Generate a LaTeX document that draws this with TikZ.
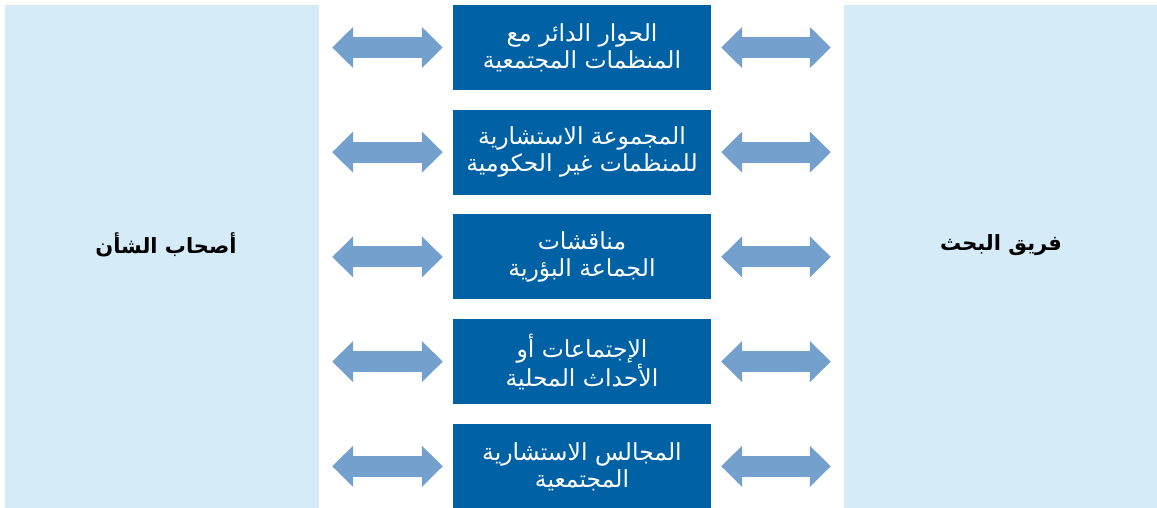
\documentclass[tikz,border=0pt]{standalone}
\usepackage{fontspec}
\newfontfamily\arabicfont[Script=Arabic]{DejaVu Sans}
\TeXXeTstate=1
\usetikzlibrary{arrows.meta}
\definecolor{pale}{HTML}{D5EBF8}
\definecolor{deep}{HTML}{0061A5}
\definecolor{arw}{HTML}{73A0CC}
\tikzset{
    panel/.style={fill=pale,inner sep=0pt,minimum height=503pt},
    side/.style={inner sep=0pt,font=\arabicfont\bfseries\fontsize{21}{26}\selectfont},
    chan/.style={fill=deep,text=white,inner sep=0pt,minimum width=258pt,minimum height=85pt,align=center,font=\arabicfont\fontsize{23.5}{27}\selectfont},
    link/.style={arw,line width=21pt,{Triangle[length=21pt,width=40pt]}-{Triangle[length=21pt,width=40pt]}}
}

\begin{document}
\begin{tikzpicture}[x=1pt,y=-1pt]
    \useasboundingbox (0,0) rectangle (1157,508);
    \node [panel,minimum width=314pt] (lpan) at (162,256.5) {};
    \node [panel,minimum width=313pt] (rpan) at (1000.5,256.5) {};
    \node [side] (lname) at (166,245) {\beginR أصحاب الشأن\endR};
    \node [side] (rname) at (1001,245) {\beginR فريق البحث\endR};
    \foreach \i/\ta/\tb in {
        1/{الحوار الدائر مع}/{المنظمات المجتمعية},
        2/{المجموعة الاستشارية}/{للمنظمات غير الحكومية},
        3/{مناقشات}/{الجماعة البؤرية},
        4/{الإجتماعات أو}/{الأحداث المحلية},
        5/{المجالس الاستشارية}/{المجتمعية}} {
        \node [chan] (ch\i) at (582,{47.5+104.7*(\i-1)}) {\beginR\ta\endR\\\beginR\tb\endR};
        \draw [link,shorten <=13pt,shorten >=10pt] (ch\i.west -| lpan.east) -- (ch\i.west);
        \draw [link,shorten <=10pt,shorten >=13pt] (ch\i.east) -- (ch\i.east -| rpan.west);
    }
\end{tikzpicture}
\end{document}
